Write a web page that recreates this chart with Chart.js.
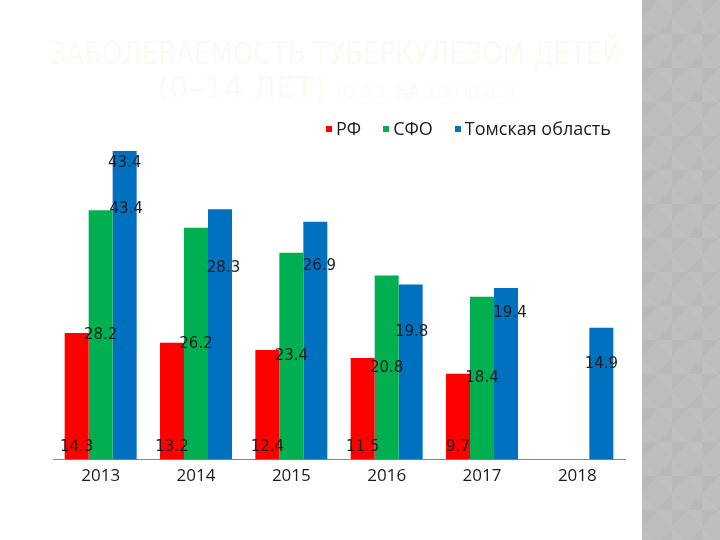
<!DOCTYPE html>
<html><head><meta charset="utf-8">
<script src="https://cdn.jsdelivr.net/npm/chart.js@4.4.1/dist/chart.umd.min.js"></script>
<style>
html,body{margin:0;padding:0;background:#fff;}
#wrap{position:relative;width:720px;height:540px;overflow:hidden;background:#fff;}
#side{position:absolute;left:642px;top:0;width:78px;height:540px;background-color:#bdbdbd;
 background-image:
  linear-gradient(45deg, rgba(255,255,255,0.035) 25%, transparent 25%, transparent 75%, rgba(255,255,255,0.035) 75%),
  linear-gradient(-45deg, rgba(0,0,0,0.02) 25%, transparent 25%, transparent 75%, rgba(0,0,0,0.02) 75%);
 background-size:30px 34px;}
.tl{position:absolute;left:0;width:672px;text-align:center;color:#fcfbf3;font-family:"DejaVu Sans Condensed","Liberation Sans Narrow",sans-serif;white-space:nowrap;}
.tl span{display:inline-block;transform-origin:center center;}
#t1{top:34px;font-size:32px;}
#t2{top:70px;font-size:30px;}
#t2 small{font-size:17px;}
#legend{position:absolute;top:117px;left:326px;height:22px;display:flex;align-items:center;font-family:"Open Sans",sans-serif;font-size:18px;color:#1a1a1a;}
.li{display:flex;align-items:center;margin-right:22px;}
.li i{display:inline-block;width:6px;height:6px;margin-right:4px;margin-top:1px;}
canvas{position:absolute;left:0;top:0;}
</style></head>
<body>
<div id="wrap">
  <div class="tl" id="t1"><span id="s1">ЗАБОЛЕВАЕМОСТЬ ТУБЕРКУЛЕЗОМ ДЕТЕЙ</span></div>
  <div class="tl" id="t2"><span id="s2">(0–14 ЛЕТ) <small>(О.ЗЗ. НА 100 ТЫС.)</small></span></div>
  <div id="side"></div>
  <canvas id="c" width="720" height="540"></canvas>
  <div id="legend"></div>
</div>
<script>
const categories = ['2013','2014','2015','2016','2017','2018'];
const seriesNames = ['РФ','СФО','Томская область'];
const seriesColors = ['#FF0000','#00B050','#0070C0'];
const rfValues    = [14.3, 13.2, 12.4, 11.5, 9.7, null];
const sfoValues   = [28.2, 26.2, 23.4, 20.8, 18.4, null];
const tomskValues = [34.9, 28.3, 26.9, 19.8, 19.4, 14.9];
const rfLabels    = ['14.3','13.2','12.4','11.5','9.7',''];
const sfoLabels   = ['28.2','26.2','23.4','20.8','18.4',''];
const tomskLabels = ['43.4','28.3','26.9','19.8','19.4','14.9'];
const yMin = 0, yMax = 40;

function fit(id, w){ const s=document.getElementById(id); const cw=s.getBoundingClientRect().width; s.style.transform='scaleX('+(w/cw)+')'; }
fit('s1', 572); fit('s2', 358);

const lg = document.getElementById('legend');
seriesNames.forEach((n,i)=>{
  const d=document.createElement('div'); d.className='li';
  const m=document.createElement('i'); m.style.background=seriesColors[i];
  d.appendChild(m); d.appendChild(document.createTextNode(n)); lg.appendChild(d);
});

const valueLabels = {
  id:'valueLabels',
  afterDatasetsDraw(chart, args, opts){
    const ctx = chart.ctx;
    ctx.save();
    ctx.font = '15px "DejaVu Sans", sans-serif';
    ctx.fillStyle = '#1e1e1e';
    ctx.textAlign = 'center'; ctx.textBaseline = 'middle';
    chart.data.datasets.forEach((ds, di)=>{
      const meta = chart.getDatasetMeta(di);
      meta.data.forEach((bar, i)=>{
        const txt = ds.labelTexts[i]; if(!txt) return;
        const p = bar.getProps(['x','y','base'], true);
        let x = p.x, y;
        const mode = opts.anchor[di];
        if (mode === 'base') y = p.base - opts.baseOffset;
        else if (mode === 'center') y = (p.y + p.base) / 2;
        else { const s = opts.shift[i]; x += s[0]; y = p.y + s[1]; }
        ctx.fillText(txt, x, y);
      });
    });
    (opts.extra||[]).forEach(e=>{
      const bar = chart.getDatasetMeta(e.dataset).data[e.index];
      ctx.fillText(e.text, bar.x + e.dx, bar.y + e.dy);
    });
    ctx.restore();
  }
};

const labelSets = [rfLabels, sfoLabels, tomskLabels];
new Chart(document.getElementById('c'), {
  type:'bar',
  data:{
    labels: categories,
    datasets: [rfValues, sfoValues, tomskValues].map((v,i)=>({
      label: seriesNames[i], data: v, backgroundColor: seriesColors[i],
      borderWidth: 0, labelTexts: labelSets[i],
      categoryPercentage: 0.755, barPercentage: 1.0
    }))
  },
  options:{
    responsive:false, animation:false,
    layout:{padding:{left:53, right:95, top:105.8, bottom:48}},
    plugins:{
      legend:{display:false}, title:{display:false}, tooltip:{enabled:false},
      valueLabels:{
        anchor:['base','center','end'], baseOffset:12,
        shift:[[0,12.5],[3.5,59],[4,44],[1,48],[4,25],[0,36]],
        extra:[{dataset:2, index:0, text:'43.4', dx:1.5, dy:58}]
      }
    },
    scales:{
      x:{grid:{display:false, drawTicks:false}, border:{display:true, color:'#888888', width:1},
         ticks:{color:'#1a1a1a', padding:6, font:{family:'"Open Sans", sans-serif', size:17}}},
      y:{display:false, min:yMin, max:yMax}
    }
  },
  plugins:[valueLabels]
});
</script>
</body></html>
